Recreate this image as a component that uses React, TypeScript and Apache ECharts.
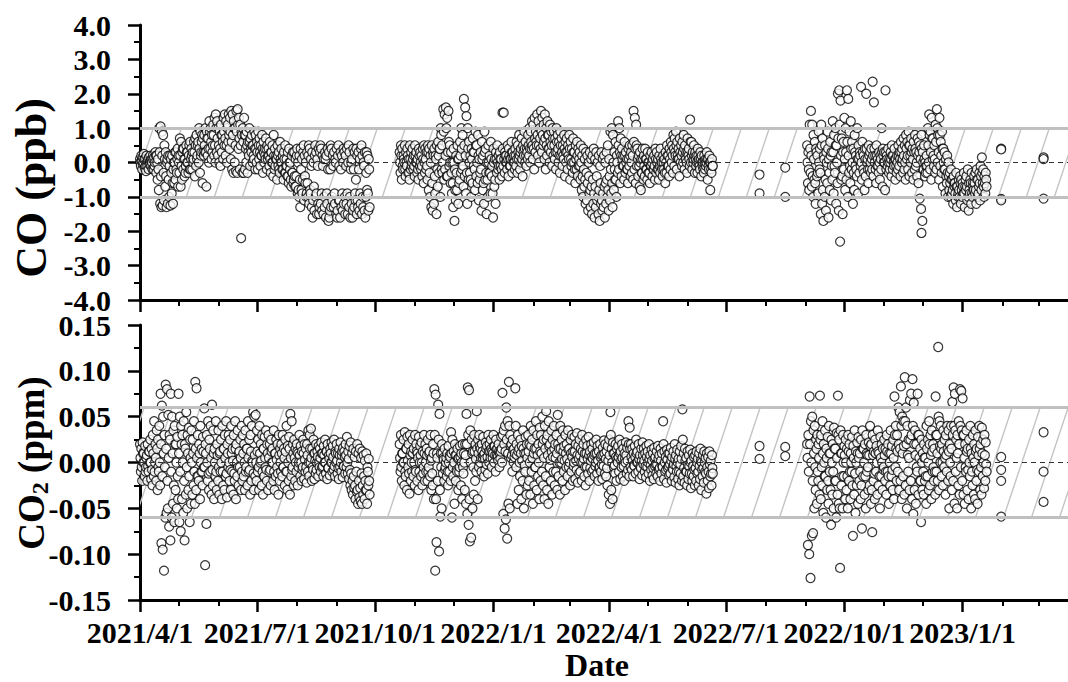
import React, { useEffect, useRef } from "react";
import * as echarts from "echarts";

// x axis: days since 2021/4/1
const tickDays = [0, 91, 183, 275, 365, 456, 548, 640];
const tickLabels = ["2021/4/1", "2021/7/1", "2021/10/1", "2022/1/1", "2022/4/1", "2022/7/1", "2022/10/1", "2023/1/1"];
const monthDays = [30, 61, 122, 153, 214, 244, 306, 334, 395, 426, 487, 518, 579, 609, 671, 699];
const dayMax = 722;

// ---------- CO (ppb) ----------
const coA_start = 0;
const coA_hi = [
  0.1, 0.2, 0.15, 0.25, 0.1, 0.2, 0.05, 0.15, 0.2, 0.1,
  0.2, 0.15, 0.3, 0.2, 0.1, 1.0, 1.05, 0.9, 0.8, 0.5,
  0.3, 0.0, 0.2, -0.1, 0.1, 0.2, -0.2, 0.0, 0.3, 0.1,
  0.2, 0.7, 0.6, 0.3, 0.4, 0.1, 0.5, 0.3, 0.2, 0.6,
  0.4, 0.3, 0.6, 0.7, 0.8, 0.5, 1.0, 0.9, 0.6, 0.7,
  0.8, 1.0, 0.9, 0.7, 1.2, 1.0, 0.8, 1.1, 1.3, 1.4,
  1.2, 1.0, 0.9, 1.1, 0.8, 1.3, 1.4, 1.2, 1.0, 1.4,
  1.3, 1.5, 1.4, 1.2, 1.0, 1.5, 1.55, 1.3, 1.1, 0.9,
  1.0, 1.3, 0.8, 0.9, 0.6, 1.0, 0.7, 0.8, 0.5, 0.9,
  0.8, 0.6, 0.9, 0.7, 0.5, 0.8, 0.6, 0.4, 0.7, 0.5,
  0.4, 0.6, 0.3, 0.5, 0.8, 0.4, 0.2, 0.5, 0.3, 0.6,
  0.4, 0.2, 0.3, 0.5, 0.1, 0.3, 0.4, 0.0, 0.2, 0.3,
  0.3, 0.1, 0.2, 0.0, 0.2, 0.4, 0.1, 0.3, 0.2, 0.0,
  0.3, 0.2, 0.4, 0.1, 0.3, 0.0, 0.2, 0.3, 0.1, 0.4,
  0.3, 0.4, 0.2, 0.1, 0.3, 0.2, 0.4, 0.3, -0.2, 0.4,
  0.2, 0.3, 0.1, 0.4, 0.2, -0.1, 0.3, 0.2, 0.0, 0.3,
  0.2, 0.4, 0.0, 0.3, -0.2, 0.1, 0.4, 0.3, -0.5, 0.2,
  0.3, 0.1, 0.4, 0.2, 0.0, 0.3, -0.3, 0.2, 0.1,
];
const coA_mid = [
  0.0, 0.05, -0.05, 0.1, -0.1, 0.0, 0.1, -0.05, 0.05, 0.0,
  0.1, -0.1, 0.2, 0.0, -0.2, 0.3, -0.4, 0.2, -0.3, 0.1,
  -0.4, 0.1, -0.5, 0.2, -0.3, -0.6, 0.0, 0.3, -0.2, 0.4,
  0.0, 0.2, -0.1, 0.4, 0.1, -0.3, 0.3, 0.0, 0.5, -0.2,
  0.2, 0.0, 0.3, 0.5, 0.1, 0.6, 0.4, 0.2, 0.8, 0.3,
  0.5, 0.3, 0.7, 0.4, 0.9, 0.6, 0.3, 0.8, 0.5, 1.0,
  0.7, 0.5, 0.4, 0.8, 0.6, 0.9, 0.7, 0.5, 1.1, 0.8,
  0.9, 0.6, 0.8, 1.0, 0.5, 0.9, 1.1, 0.7, 0.5, 0.8,
  0.6, 0.8, 0.4, 0.5, 0.3, 0.6, 0.4, 0.5, 0.2, 0.4,
  0.4, 0.3, 0.5, 0.3, 0.2, 0.4, 0.3, 0.2, 0.4, 0.1,
  0.2, 0.1, 0.3, 0.0, 0.2, -0.1, 0.1, 0.2, -0.2, 0.1,
  0.0, -0.2, 0.1, -0.3, -0.1, -0.4, 0.0, -0.5, -0.3, -0.6,
  -0.4, -0.7, 0.4, -0.8, -0.5, -0.2, -0.9, 0.5, -0.4, -1.0,
  -0.6, 0.5, -0.8, -0.1, -1.6, -0.7, 0.5, -0.9, -0.1, -1.5,
  0.5, -0.9, -0.1, -1.0, 0.1, -0.9, -0.2, -1.6, 0.5, -1.0,
  -0.1, -0.9, 0.0, -1.6, 0.5, -1.1, -0.2, -0.9, 0.4, -1.0,
  -0.1, -0.9, 0.5, -1.0, 0.0, -1.6, -0.2, -0.9, 0.4, -1.1,
  -0.2, -0.9, 0.5, -1.0, -0.1, -1.6, 0.3, -0.9, -0.2,
];
const coA_lo = [
  -0.1, -0.2, 0.0, -0.15, -0.25, -0.1, -0.2, 0.0, -0.1, -0.2,
  -0.2, 0.0, -0.3, -0.5, -0.8, -1.2, -1.3, -1.25, -1.1, -0.7,
  -1.3, -1.2, -1.0, -1.25, -0.9, -1.2, -0.6, -0.5, -0.3, -0.7,
  -0.3, -0.7, -0.5, -0.2, -0.4, -0.1, 0.0, -0.3, -0.2, 0.1,
  -0.2, 0.1, -0.4, -0.1, 0.2, 0.0, -0.3, 0.3, -0.6, 0.2,
  0.3, -0.7, 0.2, 0.0, 0.4, 0.1, 0.5, 0.2, 0.0, 0.3,
  0.2, 0.0, -0.1, 0.3, 0.1, 0.5, 0.2, 0.0, 0.6, 0.4,
  0.1, -0.2, -0.3, 0.0, -0.25, -0.3, 0.4, -0.2, -2.2, -0.3,
  -0.3, -0.2, 0.0, -0.3, 0.2, -0.1, 0.3, 0.0, 0.1, -0.2,
  0.0, -0.2, 0.1, -0.1, 0.2, -0.3, 0.0, 0.1, -0.2, 0.2,
  -0.1, -0.3, 0.0, -0.4, -0.2, 0.1, -0.5, -0.1, -0.3, 0.0,
  -0.2, -0.5, -0.3, -0.1, -0.4, -0.6, -0.2, -0.7, -0.3, -0.5,
  -0.7, -0.4, -0.9, -1.0, -1.3, -0.8, -0.5, -1.1, -0.6, -0.9,
  -1.0, -1.2, -0.9, -1.3, -1.1, -1.4, -1.0, -1.5, -1.2, -1.3,
  -1.2, -1.4, -1.5, -1.3, -1.6, -1.2, -1.7, -1.4, -1.3, -1.1,
  -1.3, -1.2, -1.5, -1.4, -1.1, -1.6, -1.3, -1.4, -1.2, -1.5,
  -1.2, -1.5, -1.3, -1.6, -1.2, -1.4, -1.3, -1.1, -1.5, -1.3,
  -1.4, -1.2, -1.5, -1.3, -1.4, -1.0, -0.8, -1.4, -1.3,
];
const coB_start = 202;
const coB_hi = [
  0.3, 0.5, 0.4, 0.2, 0.5, 0.3, 0.4, 0.1, 0.5, 0.3,
  0.4, 0.2, 0.5, 0.3, 0.1, 0.4, 0.3, 0.2, 0.4, 0.5,
  0.4, 0.3, 0.5, 0.4, 0.2, 0.5, 0.3, 0.4, 0.2, 0.5,
  0.6, 0.4, 1.0, 0.5, 1.55, 1.4, 1.6, 1.3, 1.5, 0.5,
  0.3, 0.0, 0.4, -0.2, 0.2, 0.5, 0.1, 0.6, 1.0, 0.8,
  1.85, 1.6, 1.35, 1.0, 0.6, 0.2, 0.4, 0.7, 0.3, 0.9,
  0.5, 0.8, 0.1, 0.3, 0.6, 0.2, 0.9, 0.4, 0.0, 0.5,
  0.2, 0.6, -0.1, 0.4, 0.1, 0.3, 0.5, 0.2, 0.3, 0.1,
  1.45, 1.45, 0.3, 0.2, 0.5, 0.4, 0.1, 0.6, 0.3, 0.2,
  0.4, 0.6, 0.5, 0.8, 0.3, 0.7, 0.5, 0.9, 0.6, 0.4,
  0.8, 1.0, 0.9, 1.2, 1.1, 1.3, 0.9, 1.4, 1.2, 1.0,
  1.5, 1.3, 1.1, 1.4, 1.0, 1.2, 0.8, 1.1, 0.9, 1.0,
  0.9, 0.7, 1.0, 0.8, 0.6, 0.9, 0.7, 0.5, 0.8, 0.6,
  0.7, 0.5, 0.8, 0.6, 0.4, 0.7, 0.3, 0.5, 0.6, 0.4,
  0.3, 0.5, 0.2, 0.4, 0.1, 0.3, 0.2, 0.0, 0.3, 0.1,
  0.2, 0.4, 0.1, 0.3, 0.0, 0.2, -0.1, 0.3, 0.1, 0.2,
  0.0, 0.3, 0.5, 0.1, 0.9, 1.0, 0.8, 0.3, 0.6, 0.2,
  1.2, 1.0, 0.7, 0.4, 0.2, 0.6, 0.3, 0.1, 0.4, 0.5,
  0.3, 0.5, 1.5, 1.3, 1.1, 0.4, 0.2, 0.3, 0.1, 0.4,
  0.2, 0.4, 0.1, 0.3, 0.0, 0.2, 0.3, 0.1, 0.2, 0.4,
  0.3, 0.1, 0.2, 0.4, 0.0, 0.2, 0.1, 0.3, 0.5, 0.2,
  0.4, 0.6, 0.5, 0.8, 0.7, 0.9, 0.6, 0.4, 0.7, 0.5,
  0.6, 0.8, 0.5, 0.3, 0.7, 0.4, 1.25, 0.6, 0.3, 0.5,
  0.3, 0.2, 0.4, 0.1, 0.3, 0.2, 0.0, 0.2, 0.1, 0.3,
  0.1, 0.2, 0.0, 0.1,
];
const coB_mid = [
  0.0, 0.2, -0.1, 0.1, -0.2, 0.0, 0.2, -0.3, 0.1, -0.1,
  0.1, -0.1, 0.2, 0.0, -0.2, 0.2, 0.0, -0.1, 0.1, 0.0,
  0.1, -0.1, 0.3, -0.3, 0.0, -0.6, 0.2, -0.4, 0.1, -0.2,
  0.2, 0.4, 0.8, -0.3, 0.9, -0.2, 1.0, -0.4, 0.6, 0.0,
  -0.3, -0.6, 0.0, -0.8, -0.3, 0.1, -0.6, 0.2, 0.4, -0.1,
  0.5, 0.2, -0.3, 0.4, 0.0, -0.5, 0.1, 0.3, -0.2, 0.5,
  0.0, 0.2, -0.5, -0.2, 0.1, -0.6, 0.3, -0.3, -0.5, 0.0,
  -0.3, 0.1, -0.9, 0.0, -0.5, 0.1, 0.0, -0.1, 0.1, -0.2,
  0.4, 0.1, 0.2, 0.0, 0.1, 0.2, -0.1, 0.3, 0.1, 0.0,
  0.2, 0.1, 0.3, 0.2, 0.4, 0.1, 0.3, 0.4, 0.2, 0.3,
  0.5, 0.4, 0.6, 0.5, 0.4, 0.7, 0.6, 0.8, 0.5, 0.7,
  0.9, 0.8, 0.6, 0.7, 0.5, 0.8, 0.4, 0.6, 0.5, 0.7,
  0.5, 0.3, 0.6, 0.4, 0.2, 0.5, 0.3, 0.2, 0.4, 0.3,
  0.3, 0.2, 0.4, 0.1, 0.0, 0.3, -0.2, 0.1, 0.2, -0.1,
  -0.1, 0.0, -0.4, -0.2, -0.5, -0.3, -0.6, -0.4, -0.8, -0.7,
  -0.5, -0.9, -0.7, -0.4, -1.0, -0.8, -0.6, -1.1, -0.9, -0.7,
  -0.6, -0.5, -0.8, -0.4, -0.2, -0.6, 0.0, -0.2, -0.5, 0.0,
  0.5, 0.3, 0.2, 0.1, -0.1, 0.2, 0.0, -0.2, 0.1, 0.2,
  0.0, 0.2, 0.6, 0.4, 0.5, 0.1, -0.1, 0.0, -0.3, 0.1,
  -0.1, 0.1, -0.2, 0.0, -0.3, -0.1, 0.0, -0.2, -0.1, 0.1,
  0.0, -0.2, -0.1, 0.1, -0.2, 0.0, -0.3, 0.0, 0.2, -0.1,
  0.1, 0.3, 0.2, 0.4, 0.3, 0.5, 0.2, 0.1, 0.3, 0.2,
  0.3, 0.4, 0.2, 0.0, 0.3, 0.1, 0.6, 0.2, 0.0, 0.2,
  0.1, 0.0, 0.2, -0.1, 0.1, 0.0, -0.2, 0.0, -0.1, 0.1,
  -0.1, 0.0, -0.2, -0.1,
];
const coB_lo = [
  -0.3, -0.5, -0.2, 0.0, -0.4, -0.1, -0.3, -0.5, -0.2, 0.0,
  -0.2, -0.4, 0.0, -0.3, -0.5, -0.1, -0.2, -0.4, -0.6, -0.3,
  -0.2, -0.5, -0.8, -1.0, -1.3, -1.4, -1.2, -0.9, -1.5, -0.7,
  -0.3, -1.0, -0.2, 0.0, -0.5, 0.2, -0.4, 0.3, -0.1, -0.6,
  -0.9, -1.3, -1.7, -1.1, -0.8, -1.2, -0.5, -0.3, -0.2, -0.7,
  -0.4, -0.9, -1.2, -0.5, -0.3, -1.0, -0.6, -0.1, -0.8, -0.4,
  -0.6, -1.1, -0.3, -1.4, -0.8, -1.2, -0.5, -1.5, -1.0, -0.3,
  -0.9, -0.4, -1.6, -0.7, -1.2, -0.3, -0.2, -0.5, -0.1, -0.4,
  -0.1, -0.3, 0.0, -0.2, -0.4, -0.1, 0.1, -0.3, 0.0, -0.2,
  -0.1, -0.3, 0.1, -0.2, 0.0, -0.4, 0.2, 0.0, -0.1, 0.1,
  0.2, 0.0, 0.4, 0.1, -0.2, 0.3, 0.5, 0.2, 0.0, 0.4,
  0.3, 0.5, 0.1, -0.2, 0.2, 0.4, 0.0, 0.3, -0.1, 0.2,
  0.1, -0.2, 0.3, 0.0, -0.3, 0.2, -0.1, 0.1, -0.4, 0.0,
  -0.2, 0.1, -0.5, -0.1, -0.3, 0.0, -0.6, -0.2, -0.4, 0.1,
  -0.5, -0.8, -1.0, -0.7, -1.2, -1.1, -1.4, -0.9, -1.3, -1.5,
  -1.2, -1.6, -1.3, -1.1, -1.5, -1.7, -1.2, -1.4, -1.3, -1.6,
  -1.2, -1.0, -1.4, -1.1, -0.9, -1.3, -0.8, -0.5, -1.0, -0.3,
  -0.2, -0.6, -0.4, -0.1, -0.5, -0.3, -0.2, -0.6, -0.1, -0.4,
  -0.3, -0.5, -0.2, -0.6, -0.1, -0.4, -0.7, -0.8, -0.3, -0.5,
  -0.4, -0.2, -0.5, -0.3, -0.6, -0.1, -0.4, -0.2, -0.5, -0.3,
  -0.2, -0.5, -0.3, -0.1, -0.4, -0.2, -0.6, -0.3, -0.1, -0.4,
  -0.2, 0.0, -0.3, -0.1, 0.2, -0.2, 0.1, -0.4, 0.0, -0.1,
  0.0, -0.2, 0.1, -0.3, 0.2, -0.1, 0.0, -0.2, 0.1, -0.3,
  -0.1, -0.3, 0.0, -0.2, -0.4, -0.1, -0.3, -0.2, 0.0, -0.5,
  -0.2, -0.8, -0.3, -0.1,
];
const coC_start = 519;
const coC_hi = [
  0.5, 0.3, 1.1, 1.5, 1.1, 0.8, 0.6, 0.4, 0.2, 0.9,
  0.4, 1.1, 0.7, 0.2, 0.5, 0.3, 0.9, 0.1, 0.6, 0.3,
  1.2, 0.8, 1.0, 0.5, 2.0, 2.1, 1.8, 0.7, 0.3, 1.3,
  1.0, 2.1, 1.85, 0.9, 1.2, 0.6, 0.4, 0.8, 0.2, 1.0,
  0.5, 0.3, 2.2, 0.6, 0.2, 0.4, 2.0, 0.1, 0.5, 0.3,
  0.4, 2.35, 1.75, 0.2, 0.5, 0.1, 0.3, 0.2, 1.0, 0.4,
  0.3, 2.1, 0.2, 0.4, 0.1, 0.3, 0.5, 0.2, 0.4, 0.1,
  0.2, 0.5, 0.3, 0.6, 0.4, 0.7, 0.5, 0.8, 0.6, 0.9,
  0.5, 0.7, 0.4, 0.6, 0.8, 0.3, 0.7, 0.6, 0.5, 0.8,
  0.3, 0.5, 0.0, 0.2, 1.0, 1.4, 0.9, 1.3, 0.7, 0.5,
  1.1, 1.55, 0.8, 1.3, 0.6, 0.9, 0.4, 0.3, 0.1, 0.2,
  0.0, -0.3, -0.2, -0.5, -0.4, -0.6, -0.3, -0.7, -0.5, -0.4,
  -0.5, -0.6, -0.3, -0.7, -0.4, -0.2, -0.6, -0.5, -0.3, -0.6,
  -0.4, -0.3, -0.2, -0.5, -0.3, -0.1, 0.15, -0.2, -0.4, -0.3,
];
const coC_mid = [
  0.0, -0.2, 0.4, 0.2, -0.4, 0.1, -0.6, 0.3, -0.3, 0.0,
  -0.3, 0.5, -0.8, 0.1, -0.5, 0.0, 0.4, -0.3, 0.2, -0.1,
  0.3, -0.1, 0.5, 0.0, 0.7, 1.1, 0.2, -0.4, 0.6, 0.1,
  0.3, 0.6, 0.2, -0.1, 0.4, 0.0, -0.3, 0.3, -0.2, 0.1,
  0.1, 0.2, 0.0, 0.3, -0.3, 0.1, 0.4, -0.2, 0.2, 0.0,
  0.1, 0.2, 0.4, -0.2, 0.2, -0.1, 0.0, 0.1, 0.3, 0.2,
  0.0, 0.3, 0.1, 0.0, -0.2, 0.1, 0.2, 0.0, 0.1, -0.1,
  0.0, 0.2, 0.1, 0.3, 0.1, 0.2, 0.0, 0.4, 0.2, 0.5,
  0.2, 0.3, 0.1, 0.3, 0.4, 0.0, 0.2, 0.3, 0.1, 0.4,
  0.0, 0.1, -0.3, -0.1, 0.5, 0.8, 0.3, 0.7, 0.2, 0.1,
  0.6, 1.0, 0.3, 0.8, 0.2, 0.4, 0.0, -0.2, -0.4, -0.3,
  -0.4, -0.6, -0.5, -0.8, -0.6, -0.9, -0.7, -1.0, -0.8, -0.6,
  -0.8, -0.7, -0.9, -0.5, -0.7, -1.0, -0.8, -0.6, -0.9, -0.7,
  -0.6, -0.8, -0.5, -0.9, -0.6, -0.4, -0.3, -0.7, -0.6, -0.5,
];
const coC_lo = [
  -0.6, -0.8, -0.3, -0.7, -1.0, -0.5, -1.2, -0.4, -0.9, -0.2,
  -1.5, -1.2, -1.7, -1.0, -1.4, -0.6, -1.6, -0.8, -1.1, -0.5,
  -0.9, -0.3, -1.2, -0.6, -1.4, -2.3, -0.5, -1.5, -0.2, -0.8,
  -0.5, -1.0, -0.3, -0.6, -0.2, -1.2, -0.8, -0.1, -0.4, -0.9,
  -0.3, -0.1, -0.5, -0.2, -0.8, -0.4, 0.0, -0.6, -0.2, -0.3,
  -0.2, -0.4, 0.0, -0.6, -0.1, -0.3, -0.5, -0.2, -0.7, 0.0,
  -0.8, -0.2, -0.1, -0.3, 0.0, -0.4, -0.2, -0.1, -0.5, -0.3,
  -0.2, -0.1, -0.4, 0.0, -0.3, -0.2, -0.5, 0.1, -0.2, -0.4,
  0.0, -0.3, -0.5, -0.2, -0.1, -0.4, -0.6, -1.05, -1.35, -1.7,
  -0.2, -0.4, -0.1, -0.3, 0.0, -0.2, -0.5, 0.1, -0.1, -0.3,
  -0.2, 0.0, -0.5, -0.1, -0.3, -0.7, -0.2, -0.9, -0.6, -1.0,
  -0.8, -1.0, -0.9, -1.2, -0.7, -1.1, -1.3, -0.9, -1.0, -1.2,
  -1.0, -0.9, -1.3, -0.8, -1.1, -1.4, -0.9, -1.2, -1.0, -0.8,
  -0.9, -1.2, -1.0, -0.7, -1.1, -0.8, -0.6, -1.0, -0.9, -0.7,
];
const coSparseDays = [482, 482, 502, 502, 608, 670, 670, 670, 670, 703, 703, 703];
const coSparseVals = [-0.35, -0.9, -0.15, -1.0, -2.05, 0.4, 0.38, -1.06, -1.1, 0.15, 0.1, -1.05];

// ---------- CO2 (ppm) ----------
const c2A_start = 0;
const c2A_hi = [
  0.02, 0.015, 0.022, 0.01, 0.018, 0.005, 0.02, 0.012, 0.025, 0.015,
  0.03, 0.045, 0.02, 0.035, 0.025, 0.04, 0.075, 0.062, 0.05, 0.03,
  0.085, 0.08, 0.052, 0.03, 0.075, 0.05, 0.035, 0.04, 0.02, 0.028,
  0.075, 0.05, 0.04, 0.03, 0.045, 0.02, 0.055, 0.03, 0.038, 0.025,
  0.035, 0.025, 0.045, 0.088, 0.081, 0.03, 0.02, 0.04, 0.015, 0.028,
  0.059, 0.02, 0.03, 0.045, 0.025, 0.04, 0.063, 0.035, 0.015, 0.045,
  0.02, 0.035, 0.01, 0.025, 0.04, 0.015, 0.03, 0.045, 0.02, 0.03,
  0.025, 0.04, 0.015, 0.03, 0.045, 0.02, 0.035, 0.01, 0.025, 0.04,
  0.03, 0.02, 0.035, 0.015, 0.045, 0.025, 0.03, 0.04, 0.055, 0.05,
  0.052, 0.035, 0.025, 0.04, 0.02, 0.03, 0.015, 0.028, 0.035, 0.02,
  0.03, 0.02, 0.025, 0.015, 0.035, 0.01, 0.025, 0.02, 0.03, 0.015,
  0.02, 0.03, 0.015, 0.025, 0.04, 0.018, 0.028, 0.053, 0.045, 0.02,
  0.025, 0.015, 0.02, 0.01, 0.03, 0.018, 0.012, 0.025, 0.02, 0.015,
  0.02, 0.035, 0.03, 0.037, 0.015, 0.025, 0.01, 0.02, 0.012, 0.018,
  0.015, 0.022, 0.01, 0.018, 0.025, 0.012, 0.02, 0.008, 0.015, 0.022,
  0.018, 0.025, 0.012, 0.02, 0.01, 0.015, 0.022, 0.008, 0.016, 0.012,
  0.02, 0.028, 0.012, 0.018, 0.022, 0.01, 0.015, 0.006, 0.012, 0.02,
  0.01, 0.015, 0.005, 0.012, 0.008, 0.002, 0.01, -0.005, 0.004,
];
const c2A_mid = [
  0.005, -0.005, 0.01, 0.0, -0.01, 0.008, -0.004, 0.012, 0.0, -0.008,
  0.01, -0.01, 0.005, 0.015, -0.005, 0.0, 0.02, -0.015, 0.01, -0.005,
  0.015, -0.02, 0.005, 0.025, -0.01, 0.01, -0.025, 0.02, 0.0, -0.015,
  0.01, -0.01, 0.02, 0.0, -0.02, 0.015, -0.005, 0.01, -0.015, 0.005,
  0.0, 0.01, -0.01, 0.015, 0.005, -0.015, 0.01, 0.0, -0.01, 0.012,
  -0.005, 0.01, 0.0, -0.012, 0.015, 0.005, -0.008, 0.01, 0.0, -0.01,
  0.008, -0.005, 0.012, 0.0, -0.01, 0.015, 0.005, -0.012, 0.01, 0.0,
  -0.008, 0.01, 0.002, -0.012, 0.015, 0.0, -0.005, 0.012, 0.005, -0.01,
  0.01, 0.0, -0.01, 0.015, 0.005, -0.008, 0.012, 0.002, -0.012, 0.008,
  0.0, 0.012, -0.005, 0.01, 0.002, -0.01, 0.015, 0.005, -0.008, 0.01,
  0.005, -0.008, 0.012, 0.0, -0.01, 0.01, 0.003, -0.012, 0.008, 0.0,
  0.01, -0.005, 0.005, 0.012, -0.01, 0.0, 0.015, 0.005, -0.008, 0.01,
  0.005, 0.0, 0.012, -0.005, 0.008, 0.0, -0.008, 0.01, 0.003, -0.005,
  0.008, 0.0, 0.015, 0.005, -0.005, 0.01, 0.002, -0.008, 0.006, 0.0,
  0.005, 0.01, -0.004, 0.008, 0.0, 0.012, -0.006, 0.004, 0.01, 0.0,
  0.006, -0.004, 0.01, 0.002, -0.006, 0.008, 0.0, 0.012, -0.004, 0.006,
  0.008, 0.0, 0.004, -0.008, -0.012, -0.02, -0.015, -0.025, -0.01, -0.03,
  -0.02, -0.028, -0.012, -0.025, -0.015, -0.02, -0.03, -0.01, -0.02,
];
const c2A_lo = [
  -0.01, -0.02, 0.0, -0.015, -0.005, -0.02, -0.01, 0.0, -0.018, -0.025,
  -0.015, 0.0, -0.02, -0.03, -0.01, -0.025, -0.088, -0.095, -0.118, -0.06,
  -0.055, -0.05, -0.07, -0.085, -0.06, -0.045, -0.065, -0.03, -0.05, -0.04,
  -0.065, -0.075, -0.04, -0.055, -0.085, -0.035, -0.05, -0.03, -0.065, -0.045,
  -0.035, -0.025, -0.045, -0.03, -0.015, -0.02, -0.04, -0.01, -0.025, -0.005,
  -0.112, -0.067, -0.02, -0.03, -0.01, -0.035, -0.025, -0.04, -0.015, -0.03,
  -0.02, -0.035, -0.01, -0.04, -0.025, -0.03, -0.015, -0.038, -0.005, -0.02,
  -0.03, -0.01, -0.035, -0.02, -0.04, -0.015, -0.025, -0.005, -0.03, -0.02,
  -0.015, -0.03, -0.005, -0.025, -0.01, -0.035, -0.02, 0.0, -0.03, -0.015,
  -0.02, -0.01, -0.03, 0.0, -0.025, -0.035, -0.015, -0.005, -0.02, -0.03,
  -0.01, -0.025, 0.0, -0.02, -0.03, -0.015, -0.005, -0.035, -0.02, -0.01,
  -0.015, -0.005, -0.025, -0.01, -0.03, -0.02, -0.035, -0.015, -0.005, -0.025,
  -0.02, -0.01, -0.025, 0.0, -0.015, -0.02, -0.005, -0.018, -0.01, -0.022,
  -0.01, -0.015, 0.0, -0.02, -0.008, -0.018, -0.012, 0.0, -0.015, -0.005,
  -0.01, -0.005, -0.015, 0.0, -0.012, -0.018, -0.006, -0.014, 0.0, -0.01,
  -0.008, -0.015, 0.0, -0.012, -0.018, -0.005, -0.01, -0.016, -0.004, -0.012,
  -0.005, -0.012, -0.018, -0.025, -0.03, -0.035, -0.028, -0.04, -0.032, -0.045,
  -0.038, -0.042, -0.045, -0.035, -0.04, -0.03, -0.045, -0.025, -0.035,
];
const c2B_start = 202;
const c2B_hi = [
  0.02, 0.03, 0.01, 0.025, 0.033, 0.015, 0.028, 0.02, 0.03, 0.012,
  0.025, 0.015, 0.03, 0.02, 0.01, 0.028, 0.018, 0.022, 0.012, 0.03,
  0.02, 0.015, 0.025, 0.01, 0.03, 0.005, 0.02, 0.08, 0.074, 0.01,
  0.063, 0.053, 0.01, 0.02, 0.005, 0.015, 0.0, 0.01, 0.018, 0.008,
  0.033, 0.025, 0.012, 0.02, 0.008, 0.015, 0.005, 0.018, 0.01, 0.02,
  0.01, 0.02, 0.053, 0.082, 0.079, 0.035, 0.025, 0.012, 0.03, 0.02,
  0.056, 0.025, 0.03, 0.015, 0.02, 0.028, 0.01, 0.022, 0.018, 0.03,
  0.02, 0.025, 0.012, 0.03, 0.018, 0.025, 0.015, 0.02, 0.01, 0.028,
  0.076, 0.035, 0.04, 0.06, 0.045, 0.088, 0.03, 0.02, 0.025, 0.015,
  0.081, 0.02, 0.03, 0.015, 0.025, 0.018, 0.035, 0.01, 0.028, 0.02,
  0.03, 0.02, 0.04, 0.025, 0.035, 0.015, 0.045, 0.03, 0.02, 0.038,
  0.03, 0.05, 0.025, 0.04, 0.056, 0.03, 0.045, 0.02, 0.035, 0.025,
  0.04, 0.02, 0.03, 0.052, 0.015, 0.04, 0.025, 0.035, 0.018, 0.03,
  0.02, 0.035, 0.015, 0.025, 0.03, 0.012, 0.028, 0.02, 0.032, 0.018,
  0.025, 0.015, 0.03, 0.02, 0.01, 0.025, 0.018, 0.028, 0.012, 0.02,
  0.015, 0.022, 0.01, 0.025, 0.018, 0.012, 0.02, 0.008, 0.016, 0.024,
  0.02, 0.012, 0.018, 0.025, 0.055, 0.015, 0.022, 0.01, 0.02, 0.015,
  0.018, 0.025, 0.012, 0.02, 0.015, 0.01, 0.022, 0.016, 0.045, 0.038,
  0.02, 0.015, 0.01, 0.018, 0.025, 0.012, 0.02, 0.008, 0.015, 0.022,
  0.015, 0.01, 0.018, 0.012, 0.02, 0.008, 0.014, 0.01, 0.016, 0.006,
  0.012, 0.018, 0.008, 0.015, 0.01, 0.045, 0.012, 0.006, 0.014, 0.01,
  0.01, 0.016, 0.006, 0.012, 0.02, 0.008, 0.014, 0.004, 0.012, 0.018,
  0.058, 0.01, 0.015, 0.005, 0.012, 0.008, 0.014, 0.002, 0.01, 0.006,
  0.008, 0.012, 0.004, 0.01, 0.015, 0.0, 0.008, 0.012, 0.005, 0.01,
  0.006, 0.012, 0.002, 0.008,
];
const c2B_mid = [
  0.005, -0.005, 0.01, 0.0, -0.01, 0.015, 0.002, -0.012, 0.008, 0.0,
  0.01, 0.0, -0.008, 0.012, 0.005, -0.01, 0.008, 0.0, -0.012, 0.01,
  0.0, 0.008, -0.01, 0.012, 0.002, -0.012, 0.01, 0.03, -0.04, 0.005,
  0.025, -0.03, -0.005, 0.01, 0.003, -0.008, 0.005, -0.01, 0.0, 0.006,
  0.01, -0.005, 0.0, 0.008, -0.008, 0.004, -0.01, 0.006, 0.0, -0.005,
  0.0, 0.008, 0.02, 0.03, -0.04, 0.0, 0.01, -0.005, 0.012, 0.004,
  0.015, 0.01, 0.018, 0.005, 0.012, 0.008, 0.004, 0.015, 0.006, 0.012,
  0.012, 0.015, 0.005, 0.018, 0.008, 0.014, 0.006, 0.012, 0.004, 0.015,
  0.03, 0.02, 0.012, 0.025, 0.01, 0.04, 0.018, 0.008, 0.014, 0.006,
  0.04, 0.008, 0.012, 0.0, 0.01, 0.002, 0.015, -0.003, 0.01, 0.005,
  0.012, 0.0, 0.018, 0.005, 0.01, -0.005, 0.015, 0.008, 0.0, 0.012,
  0.01, 0.02, 0.005, 0.015, 0.025, 0.008, 0.018, 0.003, 0.012, 0.006,
  0.015, 0.005, 0.01, 0.02, 0.0, 0.015, 0.004, 0.012, 0.002, 0.01,
  0.004, 0.014, 0.0, 0.01, 0.006, -0.004, 0.012, 0.002, 0.008, 0.004,
  0.008, 0.0, 0.012, 0.004, -0.005, 0.01, 0.004, 0.008, -0.006, 0.006,
  0.004, 0.008, -0.004, 0.01, 0.002, -0.006, 0.006, -0.002, 0.008, 0.01,
  0.004, -0.006, 0.002, 0.008, 0.03, 0.0, 0.01, -0.003, 0.006, 0.004,
  0.006, 0.01, 0.002, 0.005, -0.004, 0.004, 0.008, 0.002, 0.02, 0.015,
  0.006, 0.002, -0.003, 0.006, 0.01, 0.0, 0.004, -0.004, 0.002, 0.008,
  0.002, -0.004, 0.006, 0.0, 0.004, -0.003, 0.002, -0.006, 0.004, -0.002,
  -0.002, 0.004, -0.006, 0.002, -0.004, 0.02, 0.0, -0.008, 0.003, -0.004,
  -0.002, 0.002, -0.006, -0.002, 0.004, -0.004, 0.0, -0.01, -0.002, 0.004,
  0.025, -0.006, 0.002, -0.01, -0.003, -0.004, 0.0, -0.012, -0.004, -0.008,
  -0.006, 0.0, -0.01, -0.004, 0.002, -0.008, -0.006, 0.0, -0.012, -0.005,
  -0.01, -0.002, -0.012, -0.006,
];
const c2B_lo = [
  -0.01, -0.02, 0.0, -0.025, -0.015, -0.03, -0.005, -0.034, -0.02, -0.01,
  -0.015, -0.025, -0.01, -0.02, -0.03, 0.0, -0.015, -0.025, -0.005, -0.02,
  -0.01, -0.02, -0.005, -0.015, -0.03, -0.025, -0.04, -0.118, -0.087, -0.02,
  -0.097, -0.059, -0.05, -0.012, -0.02, -0.005, -0.015, -0.025, -0.01, -0.02,
  -0.06, -0.015, -0.045, -0.02, -0.01, -0.03, -0.005, -0.025, -0.04, -0.012,
  -0.03, -0.045, -0.056, -0.068, -0.086, -0.082, -0.05, -0.035, -0.02, -0.01,
  -0.04, -0.005, 0.0, -0.01, 0.005, -0.015, -0.008, -0.002, -0.012, 0.0,
  0.005, -0.005, 0.01, 0.0, -0.01, 0.008, 0.002, -0.005, 0.012, 0.0,
  -0.056, -0.072, -0.062, -0.083, -0.045, -0.05, 0.005, -0.01, 0.0, 0.01,
  -0.005, -0.045, -0.03, -0.015, -0.04, -0.02, -0.05, -0.01, -0.035, -0.025,
  -0.02, -0.035, -0.01, -0.045, -0.025, -0.005, -0.03, -0.015, -0.04, -0.02,
  -0.01, -0.025, -0.04, -0.015, -0.03, -0.045, -0.005, -0.02, -0.035, -0.01,
  -0.025, -0.01, -0.03, -0.015, -0.035, 0.0, -0.02, -0.01, -0.03, -0.005,
  -0.015, -0.005, -0.025, -0.01, -0.02, 0.0, -0.018, -0.008, -0.022, -0.012,
  -0.01, -0.02, 0.0, -0.015, -0.025, -0.005, -0.012, -0.02, 0.002, -0.01,
  -0.008, -0.015, 0.0, -0.012, -0.02, -0.005, -0.01, -0.018, -0.004, -0.012,
  -0.015, -0.025, -0.035, -0.045, -0.03, -0.04, -0.005, -0.012, -0.02, 0.0,
  -0.01, -0.018, -0.005, -0.015, -0.02, 0.0, -0.012, -0.008, -0.015, -0.005,
  -0.008, -0.015, -0.004, -0.012, 0.0, -0.01, -0.018, -0.006, -0.014, -0.002,
  -0.01, -0.016, -0.005, -0.012, -0.02, -0.008, -0.014, -0.018, -0.004, -0.012,
  -0.015, -0.008, -0.02, -0.012, -0.005, -0.018, -0.01, -0.022, -0.006, -0.014,
  -0.012, -0.02, -0.008, -0.016, -0.022, -0.01, -0.018, -0.025, -0.012, -0.02,
  -0.015, -0.022, -0.01, -0.025, -0.018, -0.012, -0.028, -0.02, -0.015, -0.025,
  -0.02, -0.012, -0.025, -0.018, -0.03, -0.015, -0.022, -0.01, -0.034, -0.02,
  -0.028, -0.015, -0.025, -0.012,
];
const c2C_start = 519;
const c2C_hi = [
  0.02, 0.03, 0.072, 0.045, 0.05, 0.035, 0.04, 0.025, 0.03, 0.02,
  0.073, 0.03, 0.045, 0.02, 0.035, 0.015, 0.028, 0.04, 0.01, 0.025,
  0.02, 0.038, 0.015, 0.032, 0.073, 0.025, 0.035, 0.01, 0.03, 0.018,
  0.025, 0.015, 0.03, 0.02, 0.01, 0.028, 0.018, 0.035, 0.012, 0.022,
  0.028, 0.01, 0.025, 0.035, 0.015, 0.02, 0.03, 0.008, 0.022, 0.04,
  0.02, 0.03, 0.012, 0.025, 0.018, 0.035, 0.01, 0.028, 0.02, 0.015,
  0.025, 0.015, 0.03, 0.02, 0.01, 0.035, 0.018, 0.025, 0.072, 0.04,
  0.03, 0.06, 0.055, 0.083, 0.05, 0.045, 0.093, 0.06, 0.04, 0.025,
  0.068, 0.075, 0.091, 0.065, 0.035, 0.02, 0.075, 0.03, 0.015, 0.025,
  0.01, 0.02, 0.005, 0.04, 0.025, 0.045, 0.03, 0.035, 0.02, 0.015,
  0.072, 0.03, 0.126, 0.045, 0.04, 0.02, 0.035, 0.025, 0.03, 0.04,
  0.035, 0.02, 0.04, 0.066, 0.082, 0.075, 0.025, 0.03, 0.045, 0.08,
  0.078, 0.07, 0.03, 0.02, 0.035, 0.015, 0.025, 0.04, 0.01, 0.03,
  0.02, 0.035, 0.015, 0.028, 0.04, 0.02, 0.038, 0.025, 0.03, 0.022,
];
const c2C_mid = [
  0.005, -0.01, 0.02, 0.0, -0.02, 0.01, -0.005, 0.015, -0.01, 0.005,
  0.025, -0.005, 0.01, 0.0, -0.015, 0.005, -0.02, 0.01, -0.03, 0.0,
  -0.01, 0.015, -0.02, 0.005, 0.03, -0.05, 0.01, -0.015, 0.0, 0.008,
  0.0, -0.015, 0.012, -0.01, 0.0, -0.025, 0.005, -0.012, 0.0, 0.01,
  0.005, -0.01, -0.025, 0.015, 0.0, -0.015, 0.01, -0.005, 0.008, 0.018,
  -0.03, 0.008, -0.012, 0.01, 0.0, 0.012, -0.015, 0.005, 0.0, -0.008,
  0.008, -0.01, 0.012, -0.015, 0.0, 0.01, -0.008, 0.005, 0.03, 0.015,
  0.012, 0.02, 0.015, 0.04, 0.01, 0.018, 0.045, 0.02, 0.008, 0.005,
  0.025, 0.03, 0.04, 0.02, 0.008, -0.005, 0.03, 0.005, -0.02, 0.0,
  -0.01, 0.005, -0.015, 0.015, 0.0, 0.02, 0.008, 0.012, -0.005, -0.01,
  0.03, 0.01, 0.05, 0.018, 0.015, 0.0, 0.012, 0.005, 0.008, 0.015,
  0.012, 0.0, 0.015, 0.03, 0.04, 0.035, 0.005, 0.01, 0.02, 0.04,
  0.035, 0.03, 0.005, -0.005, 0.012, -0.008, 0.0, 0.015, -0.01, 0.005,
  0.0, 0.012, -0.008, 0.008, 0.015, -0.005, 0.01, 0.0, 0.008, -0.002,
];
const c2C_lo = [
  -0.09, -0.1, -0.126, -0.08, -0.077, -0.05, -0.03, -0.045, -0.02, -0.035,
  -0.04, -0.025, -0.055, -0.015, -0.06, -0.03, -0.045, -0.01, -0.068, -0.035,
  -0.05, -0.02, -0.06, -0.035, -0.045, -0.115, -0.025, -0.05, -0.015, -0.04,
  -0.03, -0.05, -0.02, -0.04, -0.01, -0.08, -0.035, -0.055, -0.025, -0.045,
  -0.02, -0.04, -0.072, -0.015, -0.035, -0.05, -0.01, -0.03, -0.025, -0.045,
  -0.076, -0.02, -0.04, -0.01, -0.035, -0.025, -0.05, -0.015, -0.03, -0.005,
  -0.02, -0.035, -0.01, -0.045, -0.025, -0.015, -0.03, -0.04, -0.005, -0.02,
  -0.01, -0.03, -0.02, -0.04, -0.015, -0.035, -0.025, -0.05, -0.01, -0.03,
  -0.02, -0.04, -0.056, -0.03, -0.045, -0.01, -0.035, -0.02, -0.065, -0.03,
  -0.035, -0.02, -0.045, -0.015, -0.03, -0.025, -0.04, -0.01, -0.02, -0.035,
  -0.01, -0.02, -0.03, 0.0, -0.015, -0.025, -0.005, -0.035, -0.01, -0.02,
  -0.05, -0.015, -0.03, -0.02, -0.045, -0.01, -0.05, -0.025, -0.035, -0.005,
  -0.02, -0.035, -0.045, -0.01, -0.03, -0.04, -0.015, -0.05, -0.025, -0.035,
  -0.04, -0.02, -0.045, -0.01, -0.03, -0.035, -0.015, -0.028, -0.02, -0.01,
];
const c2SparseDays = [482, 482, 502, 502, 670, 670, 670, 670, 703, 703, 703];
const c2SparseVals = [0.018, 0.004, 0.017, 0.007, 0.006, -0.008, -0.02, -0.059, 0.033, -0.01, -0.043];

// three readings a day: morning, midday, evening
function segPoints(start: number, hi: number[], mid: number[], lo: number[]) {
  const out: number[][] = [];
  const n = Math.max(hi.length, mid.length, lo.length);
  for (let i = 0; i < n; i++) {
    if (i < hi.length) out.push([start + i, hi[i]]);
    if (i < mid.length) out.push([start + i + 0.33, mid[i]]);
    if (i < lo.length) out.push([start + i + 0.67, lo[i]]);
  }
  return out;
}

function sparsePoints(days: number[], vals: number[]) {
  return days.map((d, i) => [d, vals[i]]);
}

const coData = [
  ...segPoints(coA_start, coA_hi, coA_mid, coA_lo),
  ...segPoints(coB_start, coB_hi, coB_mid, coB_lo),
  ...sparsePoints(coSparseDays, coSparseVals),
  ...segPoints(coC_start, coC_hi, coC_mid, coC_lo),
];
const c2Data = [
  ...segPoints(c2A_start, c2A_hi, c2A_mid, c2A_lo),
  ...segPoints(c2B_start, c2B_hi, c2B_mid, c2B_lo),
  ...sparsePoints(c2SparseDays, c2SparseVals),
  ...segPoints(c2C_start, c2C_hi, c2C_mid, c2C_lo),
];

const FONT = "'Liberation Serif', 'Times New Roman', serif";

function makeHatch() {
  const c = document.createElement("canvas");
  const w = 28, h = 84;
  c.width = w;
  c.height = h;
  const ctx = c.getContext("2d")!;
  ctx.strokeStyle = "#c4c4c4";
  ctx.lineWidth = 1.4;
  ctx.beginPath();
  for (let k = -1; k <= 1; k++) {
    ctx.moveTo(k * w, h);
    ctx.lineTo(k * w + w, 0);
  }
  ctx.stroke();
  return c;
}

export default function App() {
  const ref = useRef<HTMLDivElement>(null);
  useEffect(() => {
    if (!ref.current) return;
    const chart = echarts.init(ref.current, undefined, { renderer: "svg" });
    const hatch = makeHatch();
    const labelMap: Record<number, string> = {};
    tickDays.forEach((d, i) => (labelMap[d] = tickLabels[i]));

    const mkX = (gridIndex: number, showLabels: boolean) => [
      {
        type: "value",
        gridIndex,
        position: "bottom",
        min: 0,
        max: dayMax,
        splitLine: { show: false },
        axisLine: { show: true, onZero: false, lineStyle: { color: "#000", width: 3 } },
        axisTick: { show: true, customValues: tickDays, length: 12, lineStyle: { color: "#000", width: 2.5 } },
        axisLabel: {
          show: showLabels,
          customValues: tickDays,
          formatter: (v: number) => labelMap[Math.round(v)] ?? "",
          fontSize: 30,
          fontWeight: "bold",
          fontFamily: FONT,
          color: "#000",
          margin: 17,
        },
      },
      {
        type: "value",
        gridIndex,
        position: "bottom",
        min: 0,
        max: dayMax,
        splitLine: { show: false },
        axisLine: { show: false, onZero: false },
        axisTick: { show: true, customValues: monthDays, length: 6, lineStyle: { color: "#000", width: 2 } },
        axisLabel: { show: false },
      },
    ];

    const mkY = (gridIndex: number, min: number, max: number, interval: number, digits: number) => ({
      type: "value",
      gridIndex,
      min,
      max,
      interval,
      splitLine: { show: false },
      axisLine: { show: true, onZero: false, lineStyle: { color: "#000", width: 3 } },
      axisTick: { show: true, length: 12, lineStyle: { color: "#000", width: 2.5 } },
      minorTick: { show: true, splitNumber: 2, length: 6, lineStyle: { color: "#000", width: 2 } },
      axisLabel: {
        formatter: (v: number) => (Math.abs(v) < 1e-9 ? 0 : v).toFixed(digits),
        fontSize: 30,
        fontWeight: "bold",
        fontFamily: FONT,
        color: "#000",
        margin: 29,
      },
    });

    const bandSeries = (xAxisIndex: number, yAxisIndex: number, lim: number) => ({
      type: "scatter",
      xAxisIndex,
      yAxisIndex,
      data: [],
      z: 1,
      silent: true,
      markArea: {
        silent: true,
        itemStyle: { color: { image: hatch, repeat: "repeat" }, borderWidth: 0 },
        data: [[{ yAxis: lim }, { yAxis: -lim }]],
      },
      markLine: {
        silent: true,
        symbol: "none",
        label: { show: false },
        data: [
          { yAxis: lim, lineStyle: { color: "#c0c0c0", width: 3, type: "solid" } },
          { yAxis: -lim, lineStyle: { color: "#c0c0c0", width: 3, type: "solid" } },
          { yAxis: 0, lineStyle: { color: "#333", width: 1.2, type: [5, 4] } },
        ],
      },
    });

    const pointStyle = { color: "#fff", borderColor: "#000", borderWidth: 1.2 };

    chart.setOption({
      animation: false,
      backgroundColor: "#fff",
      grid: [
        { left: 140, top: 25, right: 0, height: 275, outerBoundsMode: "none", containLabel: false },
        { left: 140, top: 325, right: 0, height: 275, outerBoundsMode: "none", containLabel: false },
      ],
      xAxis: [...mkX(0, false), ...mkX(1, true)],
      yAxis: [mkY(0, -4, 4, 1, 1), mkY(1, -0.15, 0.15, 0.05, 2)],
      series: [
        bandSeries(0, 0, 1),
        bandSeries(2, 1, 0.06),
        {
          name: "CO",
          type: "scatter",
          xAxisIndex: 0,
          yAxisIndex: 0,
          z: 3,
          symbol: "circle",
          symbolSize: 9,
          itemStyle: pointStyle,
          data: coData,
        },
        {
          name: "CO2",
          type: "scatter",
          xAxisIndex: 2,
          yAxisIndex: 1,
          z: 3,
          symbol: "circle",
          symbolSize: 9,
          itemStyle: pointStyle,
          data: c2Data,
        },
      ],
      graphic: [
        {
          type: "text",
          x: 31,
          y: 188,
          rotation: Math.PI / 2,
          style: {
            text: "CO (ppb)",
            font: `bold 44px ${FONT}`,
            fill: "#000",
            align: "center",
            verticalAlign: "middle",
            textAlign: "center",
            textVerticalAlign: "middle",
          },
        },
        {
          type: "text",
          x: 31,
          y: 463,
          rotation: Math.PI / 2,
          style: {
            text: "{n|CO}{s|2}{n| (ppm)}",
            align: "center",
            verticalAlign: "middle",
            textAlign: "center",
            textVerticalAlign: "middle",
            fill: "#000",
            rich: {
              n: { fontSize: 37, fontWeight: "bold", fontFamily: FONT, lineHeight: 42, verticalAlign: "middle" },
              s: { fontSize: 24, fontWeight: "bold", fontFamily: FONT, lineHeight: 42, verticalAlign: "bottom", padding: [14, 0, 0, 0] },
            },
          },
        },
        {
          type: "text",
          x: 597,
          y: 665,
          style: {
            text: "Date",
            font: `bold 32px ${FONT}`,
            fill: "#000",
            align: "center",
            verticalAlign: "middle",
            textAlign: "center",
            textVerticalAlign: "middle",
          },
        },
      ],
    });
    return () => chart.dispose();
  }, []);
  return <div ref={ref} style={{ position: "absolute", left: 0, top: 0, width: 1068, height: 682 }} />;
}
